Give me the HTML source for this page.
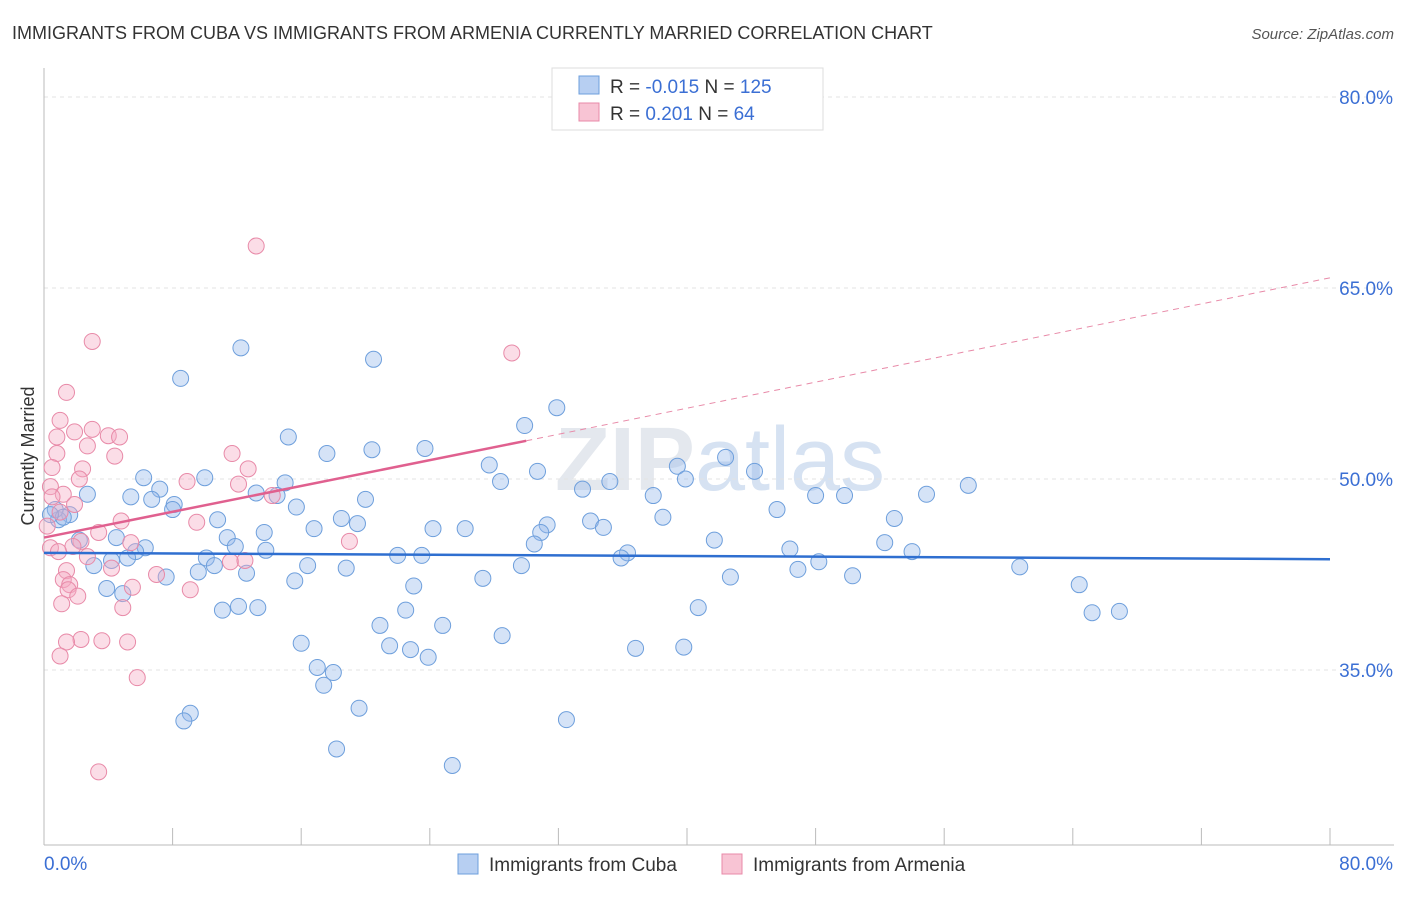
<!DOCTYPE html>
<html><head><meta charset="utf-8"><style>
body{margin:0;background:#fff;font-family:"Liberation Sans",sans-serif}
svg text{font-family:"Liberation Sans",sans-serif}
</style></head><body>
<svg id="chart" width="1406" height="892" xmlns="http://www.w3.org/2000/svg">
<text x="12" y="39" font-size="18" fill="#333">IMMIGRANTS FROM CUBA VS IMMIGRANTS FROM ARMENIA CURRENTLY MARRIED CORRELATION CHART</text>
<text x="1394" y="39" font-size="15" fill="#555" font-style="italic" text-anchor="end">Source: ZipAtlas.com</text>
<text x="720" y="490" font-size="90" fill="#e4e8ee" text-anchor="middle" font-weight="bold">ZIP<tspan font-weight="normal" fill="#d6e2f2">atlas</tspan></text>
<g id="grid"></g>
<g id="axes"></g>
<g id="blue"></g>
<g id="pink"></g>
<g id="trends"></g>
<text transform="translate(34,456) rotate(-90)" font-size="18" fill="#333" text-anchor="middle">Currently Married</text>
<g>
<rect x="552" y="68" width="271" height="62" fill="#fff" stroke="#ddd"/>
<rect x="579" y="76" width="20" height="18" fill="#b7cff2" stroke="#6e9fdc"/>
<rect x="579" y="103" width="20" height="18" fill="#f8c4d4" stroke="#e88aa8"/>
<text x="610" y="93" font-size="19" fill="#333">R = <tspan fill="#3b6fd4">-0.015</tspan>   N = <tspan fill="#3b6fd4">125</tspan></text>
<text x="610" y="120" font-size="19" fill="#333">R =   <tspan fill="#3b6fd4">0.201</tspan>   N =   <tspan fill="#3b6fd4">64</tspan></text>
</g>
<g>
<rect x="458" y="854" width="20" height="20" fill="#b7cff2" stroke="#6e9fdc"/>
<text x="489" y="871" font-size="19" fill="#333">Immigrants from Cuba</text>
<rect x="722" y="854" width="20" height="20" fill="#f8c4d4" stroke="#e88aa8"/>
<text x="753" y="871" font-size="19" fill="#333">Immigrants from Armenia</text>
</g>
</svg>
<script>
const yTicks=[80,65,50,35];
const yTickLabels=["80.0%","65.0%","50.0%","35.0%"];
const xTicks=[0,8,16,24,32,40,48,56,64,72,80];
const cubaX=[12.25,8.5,20.5,31.9,29.9,15.2,23.7,20.4,17.6,42.4,27.7,39.4,44.2,30.7,6.2,10.0,39.9,28.4,35.2,57.5,15.0,33.5,7.2,2.7,5.4,13.2,14.5,37.9,48.0,49.8,54.9,6.7,8.1,20.0,15.7,8.0,45.6,1.6,0.9,38.5,10.8,52.9,18.5,19.5,34.0,31.3,34.8,26.2,24.2,16.8,13.7,30.9,11.4,2.2,4.5,41.7,52.3,30.5,6.3,11.9,13.8,5.7,46.4,54.0,36.3,22.0,23.5,10.1,5.2,4.2,35.9,48.2,3.1,16.4,10.6,29.7,18.8,60.7,46.9,9.6,12.6,50.3,42.7,7.6,15.6,27.3,64.4,23.0,3.9,4.9,12.1,13.3,11.1,22.5,40.7,65.2,66.9,20.9,24.8,28.5,16.0,21.5,22.8,36.8,39.8,23.9,17.0,18.0,17.4,9.1,8.7,19.6,32.5,18.2,25.4,0.7,1.2,0.4];
const cubaY=[60.3,57.9,59.4,55.6,54.2,53.3,52.4,52.3,52.0,51.7,51.1,51.0,50.6,50.6,50.1,50.1,50.0,49.8,49.8,49.5,49.7,49.2,49.2,48.8,48.6,48.9,48.7,48.7,48.7,48.7,48.8,48.4,48.0,48.4,47.8,47.6,47.6,47.2,46.8,47.0,46.8,46.9,46.9,46.5,46.7,46.4,46.2,46.1,46.1,46.1,45.8,45.8,45.4,45.2,45.4,45.2,45.0,44.9,44.6,44.7,44.4,44.3,44.5,44.3,44.2,44.0,44.0,43.8,43.8,43.6,43.8,43.5,43.2,43.2,43.2,43.2,43.0,43.1,42.9,42.7,42.6,42.4,42.3,42.3,42.0,42.2,41.7,41.6,41.4,41.0,40.0,39.9,39.7,39.7,39.9,39.5,39.6,38.5,38.5,37.7,37.1,36.9,36.6,36.7,36.8,36.0,35.2,34.8,33.8,31.6,31.0,32.0,31.1,28.8,27.5,47.6,47.0,47.2];
const armX=[13.2,3.0,29.1,1.4,1.0,3.0,1.9,4.0,4.7,0.8,2.7,0.8,4.4,11.7,0.5,2.4,12.7,8.9,2.2,12.1,0.4,1.2,0.5,14.2,1.9,1.0,4.8,9.5,0.2,3.4,2.3,5.4,19.0,0.4,1.8,0.9,2.7,11.6,12.5,4.2,1.4,7.0,1.2,1.6,1.5,5.5,9.1,2.1,1.1,4.9,2.3,1.4,3.6,5.2,1.0,5.8,3.4];
const armY=[68.3,60.8,59.9,56.8,54.6,53.9,53.7,53.4,53.3,53.3,52.6,52.0,51.8,52.0,50.9,50.8,50.8,49.8,50.0,49.6,49.4,48.8,48.6,48.7,48.0,47.4,46.7,46.6,46.3,45.8,45.1,45.0,45.1,44.6,44.7,44.3,43.9,43.5,43.6,43.0,42.8,42.5,42.1,41.7,41.3,41.5,41.3,40.8,40.2,39.9,37.4,37.2,37.3,37.2,36.1,34.4,27.0];
const cubaTrend=[[0,44.2],[80,43.7]];
const armTrend=[[0,45.4],[30,53.0]];
const armTrendExt=[[30,53.0],[80,65.8]];

const NS="http://www.w3.org/2000/svg";
const X0=44,X1=1330,YT=97,YB=670;
function sx(v){return X0+(v-0)*(X1-X0)/80;}
function sy(v){return YT+(80-v)*(YB-YT)/45;}
function mk(tag,attrs,parent){const e=document.createElementNS(NS,tag);for(const k in attrs)e.setAttribute(k,attrs[k]);parent.appendChild(e);return e;}
const grid=document.getElementById('grid'),axes=document.getElementById('axes');
yTicks.forEach((t,i)=>{
  const l=mk('line',{x1:X0,x2:1394,y1:sy(t),y2:sy(t),stroke:'#e3e3e3','stroke-dasharray':'4,4'},grid);
  
  
  const tx=mk('text',{x:1393,y:sy(t)+7,'font-size':19,fill:'#3b6fd4','text-anchor':'end'},axes);
  tx.textContent=yTickLabels[i];
  
  
});
let a=mk('line',{x1:X0,x2:X0,y1:68,y2:845,stroke:'#bbb'},axes);


a=mk('line',{x1:X0,x2:1394,y1:845,y2:845,stroke:'#bbb'},axes);


xTicks.forEach(t=>{
  const l=mk('line',{x1:sx(t),x2:sx(t),y1:828,y2:845,stroke:'#bbb'},axes);
  
  
});
let t1=mk('text',{x:44,y:870,'font-size':19,fill:'#3b6fd4'},axes);t1.textContent='0.0%';


let t2=mk('text',{x:1393,y:870,'font-size':19,fill:'#3b6fd4','text-anchor':'end'},axes);t2.textContent='80.0%';


const blue=document.getElementById('blue'),pink=document.getElementById('pink');
cubaX.forEach((v,i)=>{
  const c=mk('circle',{cx:sx(v),cy:sy(cubaY[i]),r:8,fill:'rgba(150,185,235,0.4)',stroke:'#6e9fdc','stroke-width':1},blue);
  
  
});
armX.forEach((v,i)=>{
  const c=mk('circle',{cx:sx(v),cy:sy(armY[i]),r:8,fill:'rgba(245,170,195,0.4)',stroke:'#e88aa8','stroke-width':1},pink);
  
  
});
const tr=document.getElementById('trends');
let l=mk('line',{x1:sx(cubaTrend[0][0]),y1:sy(cubaTrend[0][1]),x2:sx(cubaTrend[1][0]),y2:sy(cubaTrend[1][1]),stroke:'#2f6fd0','stroke-width':2.5},tr);


l=mk('line',{x1:sx(armTrend[0][0]),y1:sy(armTrend[0][1]),x2:sx(armTrend[1][0]),y2:sy(armTrend[1][1]),stroke:'#e0608f','stroke-width':2.5},tr);


l=mk('line',{x1:sx(armTrendExt[0][0]),y1:sy(armTrendExt[0][1]),x2:sx(armTrendExt[1][0]),y2:sy(armTrendExt[1][1]),stroke:'#e88aa8','stroke-width':1,'stroke-dasharray':'6,5'},tr);


</script>
</body></html>
